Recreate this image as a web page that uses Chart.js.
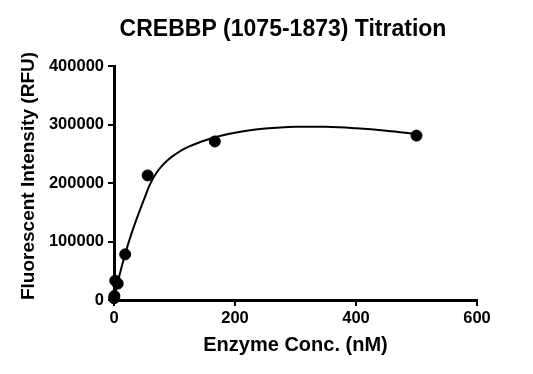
<!DOCTYPE html>
<html>
<head>
<meta charset="utf-8">
<script src="https://cdn.jsdelivr.net/npm/chart.js@4.4.0/dist/chart.umd.min.js"></script>
<style>
html,body{margin:0;padding:0;background:#fff;}
#wrap{width:533px;height:374px;}
</style>
</head>
<body>
<div id="wrap"><canvas id="c" width="533" height="374"></canvas></div>
<script>
const chartTitle = "CREBBP (1075-1873) Titration";
const xAxisTitle = "Enzyme Conc. (nM)";
const yAxisTitle = "Fluorescent Intensity (RFU)";

// measured points
const enzymeConc = [0.23, 0.69, 2.06, 6.17, 18.5, 55.6, 166.7, 500];
const fluorescence = [3000, 7000, 33000, 28000, 78000, 213000, 271000, 281000];

// fitted curve
const curveX = [0, 3, 6, 10, 15, 20, 25, 30, 40, 50, 60, 70, 80, 90, 100, 115, 130, 145, 160, 180, 200, 225, 250, 275, 300, 350, 400, 450, 500];
const curveY = [0, 15000, 29000, 46000, 66000, 84000, 101000, 117000, 146000, 173000, 199000, 217000, 230000, 240000, 248000, 258000, 265000, 271000, 276000, 281500, 286000, 290000, 293000, 295000, 296000, 296000, 293500, 289500, 284000];

const xTicks = [0, 200, 400, 600];
const yTicks = [0, 100000, 200000, 300000, 400000];

const textPlugin = {
  id: 'customTexts',
  afterDraw(chart) {
    const ctx = chart.ctx;
    ctx.save();
    ctx.fillStyle = '#000';
    ctx.textAlign = 'center';
    ctx.textBaseline = 'middle';
    ctx.font = 'bold 23px "Liberation Sans", Arial, sans-serif';
    ctx.fillText(chartTitle, 283, 30);
    ctx.translate(29, 176);
    ctx.rotate(-Math.PI / 2);
    ctx.font = 'bold 19px "Liberation Sans", Arial, sans-serif';
    ctx.fillText(yAxisTitle, 0, 0);
    ctx.restore();
  }
};

const tickFont = {family: '"Liberation Sans", Arial, sans-serif', size: 16.5, weight: 'bold'};

new Chart(document.getElementById('c'), {
  type: 'scatter',
  data: {
    datasets: [
      {
        label: 'fit',
        type: 'line',
        data: curveX.map((x, i) => ({x: x, y: curveY[i]})),
        borderColor: '#000',
        borderWidth: 2,
        pointRadius: 0,
        fill: false,
        tension: 0.4,
        clip: false
      },
      {
        label: 'data',
        data: enzymeConc.map((x, i) => ({x: x, y: fluorescence[i]})),
        backgroundColor: '#000',
        borderColor: '#000',
        pointRadius: 5.5,
        pointHoverRadius: 5.5,
        clip: false
      }
    ]
  },
  options: {
    responsive: false,
    animation: false,
    layout: {padding: {top: 66, right: 56, left: 0, bottom: 0}},
    plugins: {legend: {display: false}, title: {display: false}, tooltip: {enabled: false}},
    scales: {
      x: {
        type: 'linear',
        min: 0, max: 600,
        afterBuildTicks(scale) { scale.ticks = xTicks.map(v => ({value: v})); },
        afterFit(scale) { scale.height = 74; },
        ticks: {color: '#000', font: tickFont, padding: 3, callback: v => String(v)},
        grid: {display: true, drawOnChartArea: false, drawTicks: true, tickLength: 6, color: '#000', lineWidth: 2},
        border: {display: true, color: '#000', width: 3},
        title: {display: true, text: xAxisTitle, color: '#000',
          font: {family: '"Liberation Sans", Arial, sans-serif', size: 20, weight: 'bold'},
          padding: {top: 0, bottom: 17}}
      },
      y: {
        type: 'linear',
        min: 0, max: 400000,
        afterBuildTicks(scale) { scale.ticks = yTicks.map(v => ({value: v})); },
        afterFit(scale) { scale.width = 114; },
        ticks: {color: '#000', font: tickFont, padding: 4, callback: v => String(v)},
        grid: {display: true, drawOnChartArea: false, drawTicks: true, tickLength: 6, color: '#000', lineWidth: 2},
        border: {display: true, color: '#000', width: 3},
        title: {display: false}
      }
    }
  },
  plugins: [textPlugin]
});
</script>
</body>
</html>
